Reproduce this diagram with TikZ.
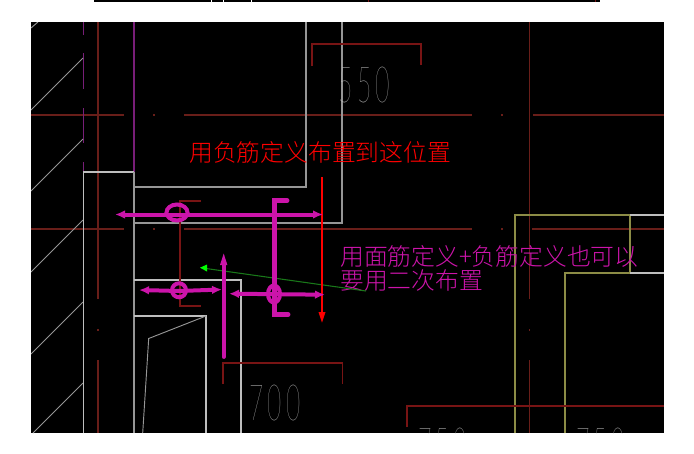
\documentclass[tikz,border=0pt]{standalone}
\usepackage{xcolor}
\usepackage{fontspec}
\usepackage{graphicx}
\usetikzlibrary{arrows.meta}
\newfontfamily\cjkfont{Noto Sans CJK SC Light}
\newfontfamily\dimfont[LetterSpace=18]{Lato Thin}
\definecolor{rebar}{RGB}{204,20,170}
\definecolor{axisred}{RGB}{105,30,25}
\definecolor{dimred}{RGB}{120,20,20}
\definecolor{wallpurple}{RGB}{120,30,120}
\definecolor{wallgray}{RGB}{150,150,150}
\definecolor{wallwhite}{RGB}{190,190,190}
\definecolor{beamyellow}{RGB}{140,140,70}
\definecolor{leadgreen}{RGB}{25,120,25}
\tikzstyle{axis} = [draw=axisred, line width=1pt]
\tikzstyle{dimline} = [draw=dimred, line width=1pt]
\tikzstyle{wall} = [draw=wallgray, line width=1pt]
\tikzstyle{hatch} = [draw=wallgray, line width=0.7pt]
\tikzstyle{beam} = [draw=beamyellow, line width=1pt]
\tikzstyle{bar} = [draw=rebar, line width=3pt, {Latex[length=7.5pt,width=6.5pt]}-{Latex[length=7.5pt,width=6.5pt]}]
\tikzstyle{stem} = [draw=rebar, line width=3.7pt, line cap=round]
\tikzstyle{ring} = [draw=rebar, line width=3pt]
\tikzstyle{dimtext} = [text=wallwhite, inner sep=0pt, anchor=north west, font=\dimfont]
\tikzstyle{note} = [inner sep=0pt, anchor=west, font=\cjkfont\fontsize{17.85}{18}\selectfont]

\begin{document}
\begin{tikzpicture}[x=0.75pt, y=-0.75pt]
    \useasboundingbox (0,0) rectangle (694,454);
    \fill[black] (94,0) rectangle (600,2);
    \foreach \tx in {211,223.5,251.5} \draw[white, line width=0.6pt] (\tx,0) -- (\tx,2);
    \foreach \tx in {368.7,595} \draw[dimred, line width=0.6pt] (\tx,0) -- (\tx,2);
    \fill[black] (31,22) rectangle (664,433);

    \begin{scope}
    \clip (31,22) rectangle (664,433);

    % Axes
    \path [axis] (31,115) -- (124,115) (153,115) -- (155,115) (184,115) -- (472,115) (501,115) -- (503,115) (533,115) -- (664,115);
    \path [axis] (31,229) -- (124,229) (153,229) -- (155,229) (184,229) -- (472,229) (501,229) -- (503,229) (532,229) -- (664,229);
    \path [axis] (98,22) -- (98,299) (98,329) -- (98,331) (98,360) -- (98,433);
    \path [axis] (529.5,22) -- (529.5,299) (529.5,329) -- (529.5,331) (529.5,360) -- (529.5,433);

    % Walls
    \path [draw=wallpurple, line width=1pt] (83.3,22) -- (83.3,35) (83.3,53) -- (83.3,89) (83.3,108) -- (83.3,143) (83.3,162) -- (83.3,172);
    \path [draw=wallpurple, line width=1pt] (134,22) -- (134,172);
    \foreach \hy in {110,191,272,354} \path [hatch] (31,\hy) -- (83,\hy-52);
    \path [hatch] (31,28) -- (38,22);
    \path [hatch] (33,433) -- (83,383);
    \path [draw=wallwhite, line width=1pt] (83.3,433) -- (83.3,172) -- (134,172);
    \path [wall] (134,172) -- (134,433);
    \path [wall] (134,187) -- (306,187) -- (306,22);
    \path [wall] (134,223) -- (342,223) -- (342,22);
    \path [draw=wallwhite, line width=1pt] (134,280) -- (241,280) -- (241,433);
    \path [draw=wallwhite, line width=1pt] (134,316) -- (206,316) -- (206,433);
    \path [hatch] (206,316) -- (148.7,338.5) -- (142.7,433);

    % Beams
    \path [beam] (515,433) -- (515,215) -- (630,215) -- (630,273);
    \path [beam] (565,433) -- (565,273) -- (630,273);
    \path [draw=wallwhite, line width=1pt] (630,215) -- (664,215) (630,273) -- (664,273);

    % Dimensions
    \path [dimline] (312,66) -- (312,44) -- (421,44) -- (421,65);
    \path [dimline] (223,384) -- (223,363) -- (342.5,363) -- (342.5,384);
    \path [dimline] (407,427) -- (407,406) -- (664,406);
    \path [dimline] (201,201) -- (180,201) -- (180,306) -- (201,306);
    \node [dimtext] (dimA) at (338,67) {\resizebox{39pt}{26.5pt}{550}};
    \node [dimtext] (dimB) at (249,385) {\resizebox{38.5pt}{26.5pt}{700}};
    \node [dimtext] (dimC) at (418,428) {\resizebox{36.5pt}{26.5pt}{750}};
    \node [dimtext] (dimD) at (576,428) {\resizebox{36.5pt}{26.5pt}{750}};
    \end{scope}

    % Notes
    \node [note, text=red] (noteA) at (189,152) {用负筋定义布置到这位置};
    \node [note, text=rebar] (noteB) at (340,256) {用面筋定义+负筋定义也可以};
    \node [note, text=rebar] (noteC) at (340,281) {要用二次布置};

    % Leaders
    \path [draw=leadgreen, line width=0.8pt] (366,291) -- (206,268.5);
    \fill [green] (200,267.7) -- (207,264.5) -- (207,271.5) -- cycle;
    \path [draw=red, line width=0.9pt] (322,177) -- (322,312);
    \fill [red] (322,322.5) -- (318.5,312) -- (325.5,312) -- cycle;

    % Bars
    \path [bar] (115,214.5) -- (323,214.5);
    \path [bar] (139,290) -- (179,291) -- (222,289.5);
    \path [bar] (229,293.7) -- (325,294.7);
    \draw [ring] (177,212.5) ellipse (10.5 and 8);
    \draw [ring] (179,290.3) circle (7);
    \draw [ring] (274,294) ellipse (6 and 8.5);
    \path [stem] (287,200.5) -- (274.5,200.5) -- (274.5,314.5) -- (288,314.5);
    \path [stem, line width=2.8pt] (223.7,262) -- (223.7,357);
    \fill [rebar] (223.7,253.5) -- (220,265) -- (227.4,265) -- cycle;
\end{tikzpicture}
\end{document}
